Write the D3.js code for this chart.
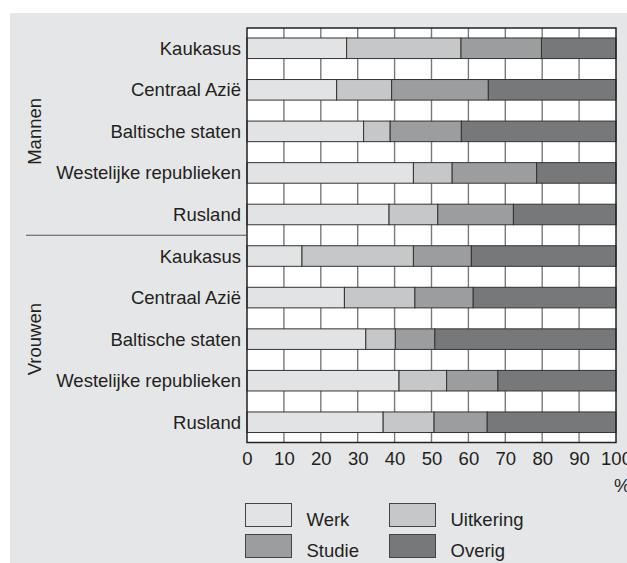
<!DOCTYPE html>
<html>
<head>
<meta charset="utf-8">
<script src="https://cdnjs.cloudflare.com/ajax/libs/d3/7.8.5/d3.min.js"></script>
<style>
  html, body { margin: 0; padding: 0; background: #fff; }
  svg { display: block; font-family: "Liberation Sans", Arial, sans-serif; }
</style>
</head>
<body>
<div id="chart"></div>
<script>
var groups = ["Mannen", "Vrouwen"]
var regions = ["Kaukasus", "Centraal Azië", "Baltische staten", "Westelijke republieken", "Rusland"]
var series = ["Werk", "Uitkering", "Studie", "Overig"]

// percentages, Mannen first then Vrouwen, same region order
var werk      = [27.0, 24.3, 31.6, 45.1, 38.5, 14.9, 26.4, 32.2, 41.2, 36.9]
var uitkering = [31.0, 14.9,  7.2, 10.5, 13.2, 30.2, 19.1,  8.0, 12.9, 13.8]
var studie    = [21.8, 26.2, 19.3, 22.9, 20.5, 15.7, 15.8, 10.7, 13.9, 14.4]
var overig    = [20.2, 34.6, 41.9, 21.5, 27.8, 39.2, 38.7, 49.1, 32.0, 34.9]
var xTicks = [0, 10, 20, 30, 40, 50, 60, 70, 80, 90, 100]

var colours = {"Werk": "#e2e3e5", "Uitkering": "#c6c7c9", "Studie": "#9c9d9f", "Overig": "#77787a"}
var fontSize = 18.5

var width = 627, height = 563
var rows = []
groups.forEach(function(g, gi){
  regions.forEach(function(r, ri){
    var i = gi * regions.length + ri
    rows.push({key: g + "|" + r, group: g, region: r,
      "Werk": werk[i], "Uitkering": uitkering[i], "Studie": studie[i], "Overig": overig[i]})
  })
})

var svg = d3.select("#chart").append("svg")
  .attr("width", width)
  .attr("height", height)

svg.append("rect")
  .attr("x", 10).attr("y", 13)
  .attr("width", width - 10).attr("height", height - 13)
  .attr("fill", "#e5e6e8")

var plotTop = 28, plotBottom = 442.5
var x = d3.scaleLinear().domain([0, 100]).range([247, 616])
var y = d3.scaleBand()
  .domain(rows.map(function(d){ return d.key }))
  .range([plotTop, plotBottom])
  .paddingInner(0.505)
  .paddingOuter(0.24)

// plot background
svg.append("rect")
  .attr("x", x(0)).attr("y", plotTop)
  .attr("width", x(100) - x(0)).attr("height", plotBottom - plotTop)
  .attr("fill", "#fff")

// vertical grid
svg.append("g").selectAll("line")
  .data(xTicks.slice(1, -1))
  .enter().append("line")
  .attr("x1", function(d){ return x(d) }).attr("x2", function(d){ return x(d) })
  .attr("y1", plotTop).attr("y2", plotBottom)
  .attr("stroke", "#7a7a7a")
  .attr("stroke-width", 1.4)

var stacked = d3.stack().keys(series)(rows)

svg.append("g").selectAll("g")
  .data(stacked)
  .enter().append("g")
  .attr("fill", function(d){ return colours[d.key] })
  .selectAll("rect")
  .data(function(d){ return d })
  .enter().append("rect")
  .attr("x", function(d){ return x(d[0]) })
  .attr("y", function(d){ return y(d.data.key) })
  .attr("width", function(d){ return x(d[1]) - x(d[0]) })
  .attr("height", y.bandwidth())
  .attr("stroke", "#333")
  .attr("stroke-width", 1)

// plot border
svg.append("rect")
  .attr("x", x(0)).attr("y", plotTop)
  .attr("width", x(100) - x(0)).attr("height", plotBottom - plotTop)
  .attr("fill", "none")
  .attr("stroke", "#222")
  .attr("stroke-width", 1.5)

// region labels
svg.append("g").selectAll("text")
  .data(rows)
  .enter().append("text")
  .attr("x", 241)
  .attr("y", function(d){ return y(d.key) + y.bandwidth() / 2 })
  .attr("dy", "0.35em")
  .attr("text-anchor", "end")
  .attr("font-size", fontSize)
  .attr("fill", "#231f20")
  .text(function(d){ return d.region })

// group labels + separator
var mid = (y(rows[4].key) + y.bandwidth() + y(rows[5].key)) / 2
svg.append("line")
  .attr("x1", 26).attr("x2", x(0))
  .attr("y1", mid).attr("y2", mid)
  .attr("stroke", "#555").attr("stroke-width", 1.2)

groups.forEach(function(g, gi){
  var first = y(rows[gi * 5].key), last = y(rows[gi * 5 + 4].key) + y.bandwidth()
  var cy = (first + last) / 2
  svg.append("text")
    .attr("transform", "translate(40.5," + cy + ") rotate(-90)")
    .attr("text-anchor", "middle")
    .attr("font-size", fontSize)
    .attr("fill", "#231f20")
    .text(g)
})

// x axis
var axis = svg.append("g")
  .attr("transform", "translate(0," + plotBottom + ")")
  .call(d3.axisBottom(x).tickValues(xTicks).tickSize(0).tickPadding(9.5))
axis.select(".domain").remove()
axis.selectAll("text")
  .attr("font-size", fontSize)
  .attr("font-family", "Liberation Sans, Arial, sans-serif")
  .attr("fill", "#231f20")

svg.append("text")
  .attr("x", 614).attr("y", 492)
  .attr("font-size", fontSize)
  .attr("fill", "#231f20")
  .text("%")

// legend
var legend = svg.append("g").selectAll("g")
  .data(series)
  .enter().append("g")
  .attr("transform", function(d, i){
    return "translate(" + (245.5 + (i % 2) * 144) + "," + (503.5 + Math.floor(i / 2) * 31) + ")"
  })
legend.append("rect")
  .attr("width", 46).attr("height", 23)
  .attr("fill", function(d){ return colours[d] })
  .attr("stroke", "#444").attr("stroke-width", 1)
legend.append("text")
  .attr("x", 61).attr("y", 22)
  .attr("font-size", fontSize)
  .attr("fill", "#231f20")
  .text(function(d){ return d })
</script>
</body>
</html>
